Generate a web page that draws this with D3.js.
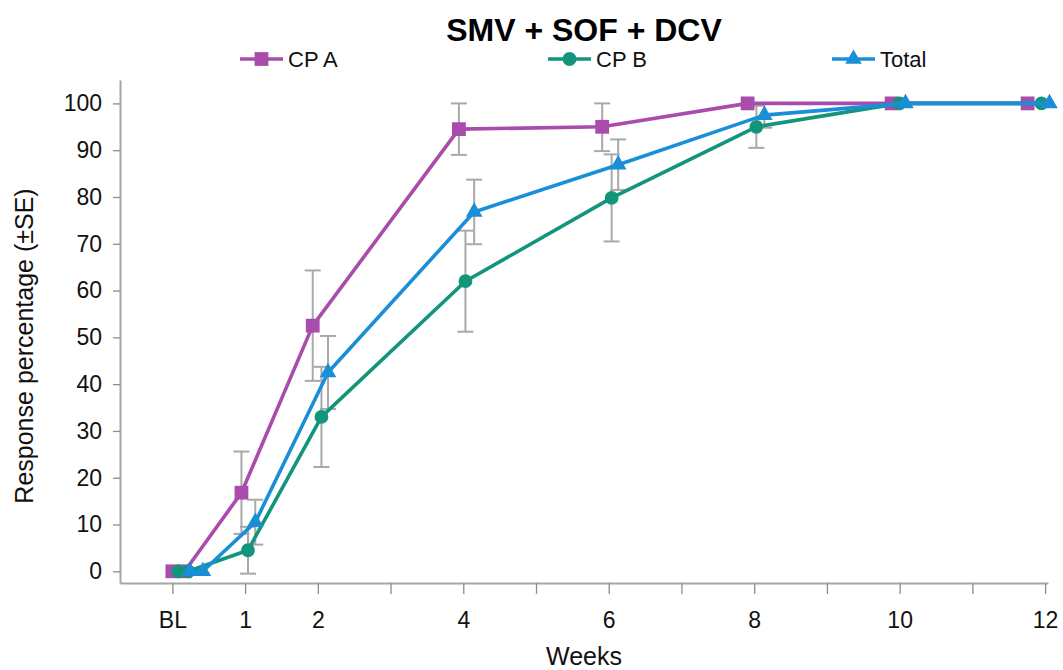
<!DOCTYPE html>
<html>
<head>
<meta charset="utf-8">
<script src="https://cdn.jsdelivr.net/npm/d3@7"></script>
<style>
  html, body { margin: 0; padding: 0; background: #fff; }
  svg { display: block; font-family: "Liberation Sans", Arial, sans-serif; }
</style>
</head>
<body>
<svg id="chart" width="1063" height="670"></svg>
<script>
// ── Data ──
const seriesNames = ["CP A", "CP B", "Total"];

// actual visit times in weeks (points are slightly spread around each visit)
const weeksA = [0, 0.17, 0.95, 1.93, 3.94, 5.91, 7.91, 9.89, 11.76];
const weeksB = [0.08, 0.22, 1.04, 2.05, 4.03, 6.04, 8.03, 10.0, 11.95];
const weeksT = [0.24, 0.42, 1.14, 2.14, 4.15, 6.13, 8.14, 10.08, 12.06];

const valuesA = [0, 0, 16.8, 52.5, 94.5, 95, 100, 100, 100];
const valuesB = [0, 0, 4.5, 33, 62, 79.8, 95, 100, 100];
const valuesT = [0, 0, 10.5, 42.5, 76.8, 86.9, 97.5, 100, 100];

const seA = [0, 0, 8.8, 11.8, 5.5, 5.2, 0, 0, 0];
const seB = [0, 0, 5, 10.7, 10.8, 9.3, 4.5, 0, 0];
const seT = [0, 0, 4.8, 7.8, 6.9, 5.4, 2.7, 0, 0];

const xTicks = d3.range(0, 13);
const xTickLabels = { 0: "BL", 1: "1", 2: "2", 4: "4", 6: "6", 8: "8", 10: "10", 12: "12" };
const yTicks = d3.range(0, 101, 10);

const colors = ["#a94cab", "#13957b", "#1a8fd8"];
const shapes = [d3.symbolSquare, d3.symbolCircle, d3.symbolTriangle];
const shapeSizes = [190, 150, 120];

const series = [
  { name: seriesNames[0], weeks: weeksA, values: valuesA, se: seA },
  { name: seriesNames[1], weeks: weeksB, values: valuesB, se: seB },
  { name: seriesNames[2], weeks: weeksT, values: valuesT, se: seT }
].map((s, i) => ({
  ...s,
  color: colors[i],
  shape: shapes[i],
  size: shapeSizes[i],
  points: s.weeks.map((w, j) => ({ w, v: s.values[j], se: s.se[j] }))
}));

const svg = d3.select("#chart");

const x = d3.scaleLinear().domain([-0.72, 12.04]).range([120, 1048]);
const y = d3.scaleLinear().domain([-2.5, 105]).range([583, 80]);

// ── Axes ──
const xAxis = svg.append("g")
  .attr("transform", `translate(0,${y.range()[0]})`)
  .call(d3.axisBottom(x)
    .tickValues(xTicks)
    .tickSize(11)
    .tickSizeOuter(0)
    .tickPadding(18)
    .tickFormat(d => xTickLabels[d] || ""));

const yAxis = svg.append("g")
  .attr("transform", `translate(${x.range()[0]},0)`)
  .call(d3.axisLeft(y)
    .tickValues(yTicks)
    .tickSize(7)
    .tickSizeOuter(0)
    .tickPadding(11));

[xAxis, yAxis].forEach(g => {
  g.select(".domain").attr("stroke", "#a6a6a6").attr("stroke-width", 2);
  g.selectAll(".tick line").attr("stroke", "#8c8c8c").attr("stroke-width", 1.3);
  g.selectAll(".tick text")
    .attr("fill", "#111")
    .style("font-size", "23px")
    .style("font-family", "Liberation Sans, Arial, sans-serif");
});

// ── Error bars ──
const capW = 8;
series.forEach(s => {
  const eb = svg.append("g")
    .attr("stroke", "#a9a9a9")
    .attr("stroke-width", 2)
    .attr("fill", "none");
  const withErr = s.points.filter(p => p.se > 0);
  eb.selectAll("line.v").data(withErr).join("line")
    .attr("x1", p => x(p.w)).attr("x2", p => x(p.w))
    .attr("y1", p => y(p.v - p.se)).attr("y2", p => y(Math.min(100, p.v + p.se)));
  eb.selectAll("line.top").data(withErr).join("line")
    .attr("x1", p => x(p.w) - capW).attr("x2", p => x(p.w) + capW)
    .attr("y1", p => y(Math.min(100, p.v + p.se))).attr("y2", p => y(Math.min(100, p.v + p.se)));
  eb.selectAll("line.bot").data(withErr).join("line")
    .attr("x1", p => x(p.w) - capW).attr("x2", p => x(p.w) + capW)
    .attr("y1", p => y(p.v - p.se)).attr("y2", p => y(p.v - p.se));
});

// ── Lines and markers ──
const line = d3.line().x(p => x(p.w)).y(p => y(p.v));

series.forEach(s => {
  svg.append("path")
    .datum(s.points)
    .attr("d", line)
    .attr("fill", "none")
    .attr("stroke", s.color)
    .attr("stroke-width", 3.6)
    .attr("stroke-linejoin", "round");

  svg.append("g").selectAll("path").data(s.points).join("path")
    .attr("transform", p => `translate(${x(p.w)},${y(p.v)})`)
    .attr("d", d3.symbol().type(s.shape).size(s.size))
    .attr("fill", s.color);
});

// ── Title ──
svg.append("text")
  .attr("x", 584).attr("y", 41)
  .attr("text-anchor", "middle")
  .style("font-size", "32px")
  .style("font-weight", "bold")
  .attr("fill", "#000")
  .text("SMV + SOF + DCV");

// ── Legend ──
const legendX = [240, 548, 832];
const legendY = 59;
series.forEach((s, i) => {
  const g = svg.append("g").attr("transform", `translate(${legendX[i]},${legendY})`);
  g.append("line")
    .attr("x1", 0).attr("x2", 43)
    .attr("stroke", s.color).attr("stroke-width", 3.6);
  g.append("path")
    .attr("transform", "translate(21.5,0)")
    .attr("d", d3.symbol().type(s.shape).size(s.size))
    .attr("fill", s.color);
  g.append("text")
    .attr("x", 48).attr("y", 8)
    .style("font-size", "22px")
    .attr("fill", "#111")
    .text(s.name);
});

// ── Axis titles ──
svg.append("text")
  .attr("x", 584).attr("y", 665)
  .attr("text-anchor", "middle")
  .style("font-size", "25px")
  .attr("fill", "#111")
  .text("Weeks");

svg.append("text")
  .attr("transform", "translate(33,346) rotate(-90)")
  .attr("text-anchor", "middle")
  .style("font-size", "25px")
  .attr("fill", "#111")
  .text("Response percentage (±SE)");
</script>
</body>
</html>
